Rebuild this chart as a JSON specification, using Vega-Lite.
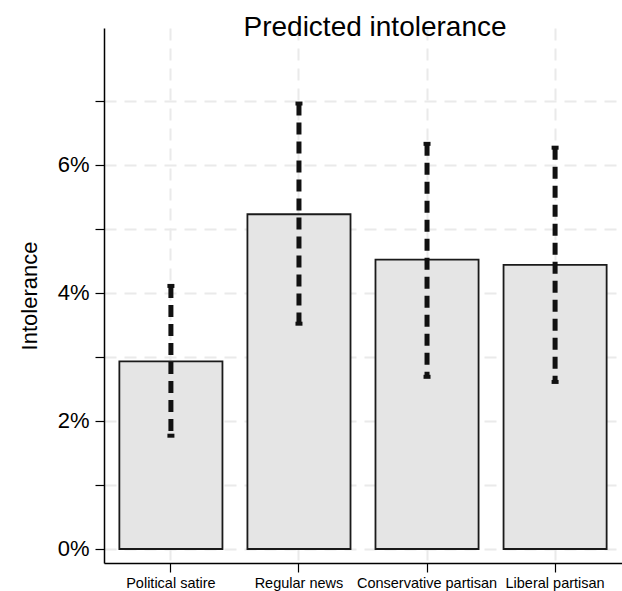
{
  "$schema": "https://vega.github.io/schema/vega-lite/v6.json",
  "width": 518,
  "height": 535,
  "autosize": "none",
  "padding": {"left": 104, "top": 28, "right": 0, "bottom": 28},
  "background": "white",
  "config": {"view": {"stroke": null}, "font": "Liberation Sans"},
  "title": {
    "text": "Predicted intolerance",
    "font": "Liberation Sans",
    "fontSize": 28,
    "fontWeight": "normal",
    "color": "#000000",
    "anchor": "middle",
    "frame": "group",
    "dx": 12,
    "dy": 25,
    "baseline": "alphabetic",
    "offset": -10.5
  },
  "data": {
    "values": [
      {"type": "Political satire", "pred": 0.0293, "lo": 0.0177, "hi": 0.0411},
      {"type": "Regular news", "pred": 0.0523, "lo": 0.0352, "hi": 0.0696},
      {"type": "Conservative partisan", "pred": 0.0452, "lo": 0.0269, "hi": 0.0633},
      {"type": "Liberal partisan", "pred": 0.0444, "lo": 0.0261, "hi": 0.0627}
    ]
  },
  "encoding": {
    "x": {
      "field": "type",
      "type": "nominal",
      "sort": null,
      "scale": {"paddingInner": 0.195, "paddingOuter": 0.12},
      "axis": {
        "title": null,
        "labelAngle": 0,
        "labelFontSize": 14.5,
        "labelColor": "#000000",
        "labelBaseline": "alphabetic",
        "labelPadding": 15,
        "labelOverlap": false,
        "labelLimit": 300,
        "tickSize": 9,
        "tickColor": "#000000",
        "tickWidth": 1.2,
        "domainColor": "#000000",
        "domainWidth": 1.5,
        "grid": true,
        "gridColor": "#eaeaea",
        "gridWidth": 2,
        "gridDash": [12, 8]
      }
    }
  },
  "layer": [
    {
      "mark": {"type": "bar", "fill": "#e5e5e5", "stroke": "#1a1a1a", "strokeWidth": 1.8},
      "encoding": {
        "y": {
          "field": "pred",
          "type": "quantitative",
          "scale": {"domain": [-0.00219, 0.0814], "nice": false, "zero": false},
          "axis": {
            "title": "Intolerance",
            "titleFontSize": 22,
            "titleFontWeight": "normal",
            "titleColor": "#000000",
            "titleAngle": -90,
            "titleX": -74.5,
            "titleY": 267.5,
            "titleAlign": "center",
            "titleBaseline": "middle",
            "values": [0, 0.01, 0.02, 0.03, 0.04, 0.05, 0.06, 0.07],
            "labelExpr": "round(datum.value*100) % 2 == 0 ? round(datum.value*100) + '%' : ''",
            "labelFontSize": 22,
            "labelColor": "#000000",
            "labelPadding": 6,
            "tickSize": 9,
            "tickColor": "#000000",
            "tickWidth": 1.2,
            "domainColor": "#000000",
            "domainWidth": 1.5,
            "grid": true,
            "gridColor": "#eaeaea",
            "gridWidth": 2,
            "gridDash": [12, 8]
          }
        },
        "y2": {"datum": 0}
      }
    },
    {
      "mark": {"type": "rule", "color": "#111111", "strokeWidth": 5, "strokeDash": [12, 7]},
      "encoding": {
        "y": {"field": "hi", "type": "quantitative"},
        "y2": {"field": "lo"}
      }
    },
    {
      "mark": {"type": "tick", "color": "#111111", "opacity": 1, "orient": "horizontal", "size": 7, "thickness": 4},
      "encoding": {"y": {"field": "hi", "type": "quantitative"}}
    },
    {
      "mark": {"type": "tick", "color": "#111111", "opacity": 1, "orient": "horizontal", "size": 7, "thickness": 4},
      "encoding": {"y": {"field": "lo", "type": "quantitative"}}
    }
  ]
}
